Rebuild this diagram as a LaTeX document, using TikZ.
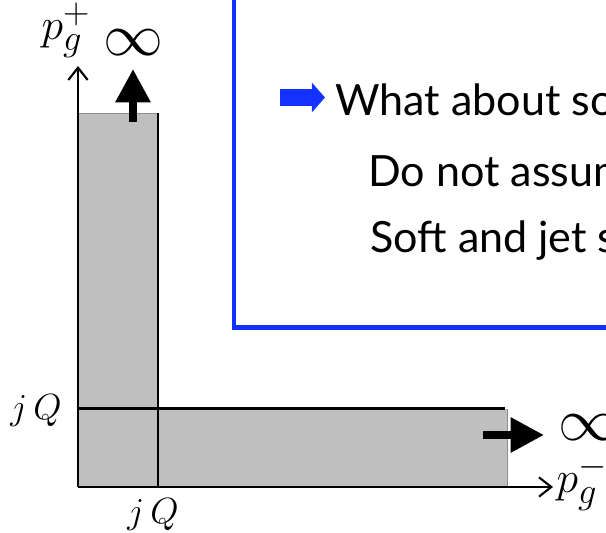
\documentclass[tikz,border=0pt]{standalone}
\usepackage{amsmath}
\usepackage{fontspec}
\setmainfont{Lato}
\usepackage{tikz}
\usetikzlibrary{arrows.meta, positioning, calc}
\definecolor{boxblue}{RGB}{20,50,255}
\newcommand{\biginf}{\scalebox{1.37}{$\infty$}}
\tikzset{
  axis/.style={line width=1.2pt, -{Straight Barb[length=7pt,width=11pt,line width=1.2pt]}},
  bigarrow/.style={line width=4.5pt, -{Triangle[length=19pt,width=19pt]}},
  bulletarrow/.style={boxblue, line width=10.2pt, -{Triangle[length=7.4pt,width=16.4pt]}},
  strip/.style={fill=black!25},
  stripedge/.style={black!45, line width=0.5pt},
  bigmath/.style={font=\fontsize{24.88}{26}\selectfont},
  axlabel/.style={font=\fontsize{24.88}{26}\selectfont},
  ticklabel/.style={font=\fontsize{20.74}{24}\selectfont},
  slidetext/.style={font=\fontsize{24.5}{28}\selectfont, anchor=base west, inner sep=0pt},
}

\begin{document}
\begin{tikzpicture}
\useasboundingbox (-1.56,-0.92) rectangle (10.56,9.74);
\clip (-1.56,-0.92) rectangle (10.56,9.74);
% Shaded region (drawn FIRST so the lines are on top)
\fill[strip] (0,0) rectangle (1.6,7.48);
\fill[strip] (0,0) rectangle (8.58,1.56);
\draw[stripedge] (0,7.48) -- (1.6,7.48);
\draw[stripedge] (8.58,0) -- (8.58,1.56);
% Boundaries at j Q
\coordinate (O) at (0,0);
\coordinate (jQx) at (1.6,0);
\coordinate (jQy) at (0,1.56);
\coordinate (stripTop) at (1.6,7.48);
\coordinate (stripEnd) at (8.54,1.56);
\draw[line width=0.9pt] (jQx) -- (stripTop);
\draw[line width=1.7pt] (jQy) -- (stripEnd);
% Axes
\coordinate (ytip) at (0,8.42);
\coordinate (xtip) at (9.5,0);
\draw[axis] (O) -- (ytip);
\draw[axis] (O) -- (xtip);
% Axis and tick labels
\node[axlabel] (pplus) at (-0.24,9.14) {$p_g^+$};
\node[axlabel] (pminus) at (10.08,0.08) {$p_g^-$};
\node[ticklabel] (jQleft) at (-0.84,1.52) {$j\,Q$};
\node[ticklabel] (jQbottom) at (1.5,-0.56) {$j\,Q$};
% Strips go off to infinity
\node[bigmath] (inftop) at (1.1,8.88) {\biginf};
\node[bigmath] (infright) at (10.2,1.18) {\biginf};
\coordinate (upstart) at (1.1,7.3);
\coordinate (uptip) at (1.1,8.36);
\coordinate (rightstart) at (8.1,1.04);
\coordinate (righttip) at (9.32,1.04);
\draw[bigarrow] (upstart) -- (uptip);
\draw[bigarrow] (rightstart) -- (righttip);
% Slide box
\draw[boxblue, line width=2.5pt] (3.12,11) |- (12,3.19);
\coordinate (bulstart) at (4.04,7.79);
\coordinate (bultip) at (4.94,7.79);
\draw[bulletarrow] (bulstart) -- (bultip);
\node[slidetext] (line1) at (5.14,7.42) {What about soft};
\node[slidetext] (line2) at (5.8,6.0) {Do not assume};
\node[slidetext] (line3) at (5.84,4.68) {Soft and jet scales};
\end{tikzpicture}
\end{document}
